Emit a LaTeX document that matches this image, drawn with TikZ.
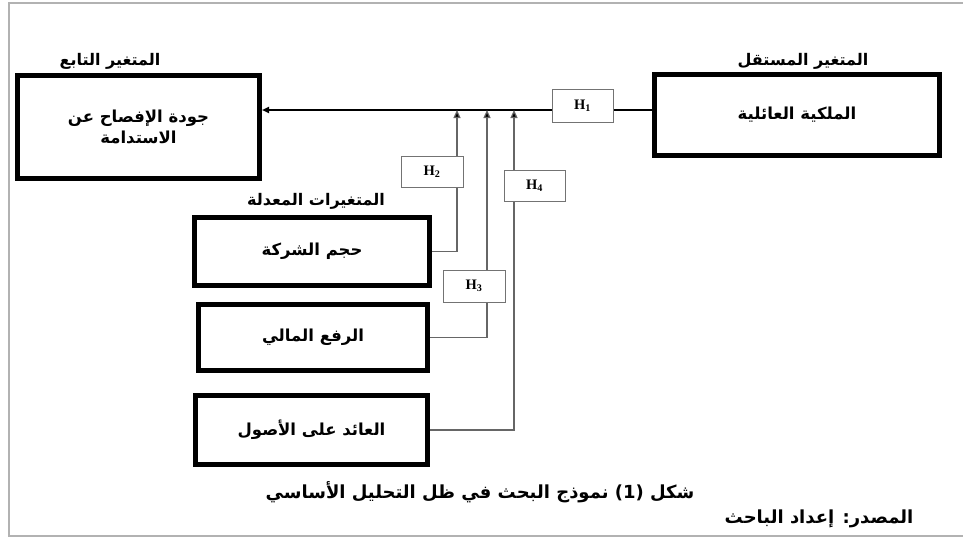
\documentclass[tikz,border=0pt]{standalone}
\usepackage{fontspec}
\setmainfont{Liberation Serif}
\newfontfamily\arabicfont[Script=Arabic]{DejaVu Sans}
\TeXXeTstate=1
\usetikzlibrary{arrows.meta,positioning}
\newcommand\artxt[1]{{\arabicfont\bfseries\beginR #1\endR}}
\tikzset{
  varbox/.style={draw,line width=5pt,align=center,font=\fontsize{16.5}{21}\selectfont},
  hbox/.style={draw=black!55,fill=white,line width=0.8pt,minimum width=61pt,minimum height=32pt,font=\bfseries\fontsize{14.5}{16}\selectfont},
  title/.style={font=\fontsize{16}{18}\selectfont},
  caption/.style={font=\fontsize{18}{20}\selectfont},
  mainline/.style={line width=1.8pt,-{Triangle[width=6pt,length=7pt]}},
  modline/.style={black!60,line width=1.2pt,-{Triangle[width=7pt,length=8pt,fill=black]}}
}
\begin{document}
\begin{tikzpicture}[x=1pt,y=-1pt]
  \useasboundingbox (0,0) rectangle (963,539);
  \draw[black!30,line width=1.5pt] (963,3)--(9,3)--(9,536)--(963,536);
  % variables
  \node[varbox,minimum width=242pt,minimum height=103pt] (dep) at (138.5,127) {\artxt{جودة الإفصاح عن}\\\artxt{الاستدامة}};
  \node[varbox,minimum width=285pt,minimum height=81pt] (indep) at (797,115) {\artxt{الملكية العائلية}};
  \node[varbox,line width=5.5pt,minimum width=235pt,minimum height=68pt] (size) at (312,251.5) {\artxt{حجم الشركة}};
  \node[varbox,line width=5.5pt,minimum width=229pt,minimum height=66pt] (lev) at (313,337.5) {\artxt{الرفع المالي}};
  \node[varbox,line width=5.5pt,minimum width=232pt,minimum height=69pt] (roa) at (311.5,430) {\artxt{العائد على الأصول}};
  \node[title] (tdep) at (110,61) {\artxt{المتغير التابع}};
  \node[title] (tindep) at (803,61) {\artxt{المتغير المستقل}};
  \node[title] (tmod) at (316,201) {\artxt{المتغيرات المعدلة}};
  % junctions on the main line
  \coordinate (j2) at (457,110); \coordinate (j3) at (487,110); \coordinate (j4) at (514,110);
  \draw[mainline] (indep.west |- j2) -- (dep.east |- j2);
  \draw[modline] (size.east) -- (size.east -| j2) -- (j2);
  \draw[modline] (lev.east) -- (lev.east -| j3) -- (j3);
  \draw[modline] (roa.east) -- (roa.east -| j4) -- (j4);
  % hypotheses
  \node[hbox,minimum height=33pt] (h1) at (582.5,105.5) {H\textsubscript{1}};
  \node[hbox,minimum width=62pt,minimum height=31pt] (h2) at (432,171.5) {H\textsubscript{2}};
  \node[hbox,minimum width=62pt] (h3) at (474,286) {H\textsubscript{3}};
  \node[hbox,minimum height=31pt] (h4) at (534.5,185.5) {H\textsubscript{4}};
  % caption and source
  \node[caption] (cap) at (480,492) {\artxt{شكل \beginL(1)\endL{} نموذج البحث في ظل التحليل الأساسي}};
  \node[caption] (src) at (819,519) {\artxt{المصدر: إعداد الباحث}};
\end{tikzpicture}
\end{document}
